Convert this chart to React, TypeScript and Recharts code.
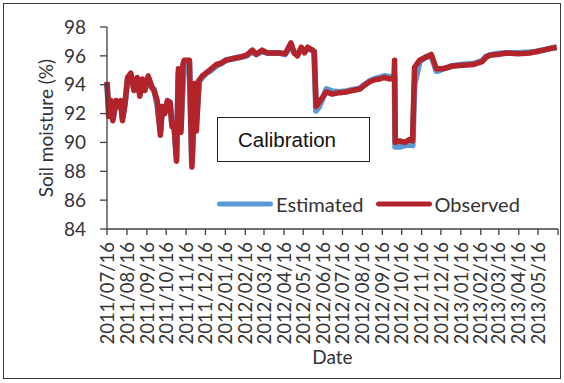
import React from 'react';
import { LineChart, Line, XAxis, YAxis, Legend } from 'recharts';

// Day offsets from 2011/07/16
const days = [
  0, 3, 6, 9, 14, 17, 21, 24, 28, 32, 37, 42, 47, 51, 55, 59, 64, 70, 73, 78,
  83, 86, 90, 94, 98, 101, 104, 108, 111, 115, 118, 120, 128, 132, 137, 139, 143, 148, 154, 162,
  170, 178, 185, 195, 206, 217, 226, 232, 241, 249, 257, 268, 277, 286, 291, 296, 302, 307, 312, 319,
  322, 325, 330, 341, 350, 361, 372, 382, 393, 400, 408, 416, 424, 431, 439, 446, 447, 448, 455, 463,
  470, 475, 478, 486, 495, 504, 512, 517, 522, 530, 537, 553, 569, 576, 583, 589, 595, 606, 621, 639,
  657, 668, 678, 688, 699,
];

const observed = [
  94.2, 91.8, 92.9, 91.5, 92.9, 92.5, 92.9, 91.5, 92.7, 94.5, 94.8, 93.6, 94.5, 93.2, 94.4, 93.6, 94.6, 93.8, 93.6, 92.9,
  90.5, 92.5, 92.0, 92.9, 92.8, 91.1, 91.3, 88.7, 95.1, 90.7, 95.4, 95.7, 95.7, 88.3, 94.1, 90.8, 94.3, 94.6, 94.8, 95.1,
  95.4, 95.5, 95.7, 95.8, 95.9, 96.05, 96.4, 96.1, 96.4, 96.2, 96.2, 96.2, 96.15, 96.9, 96.2, 96.0, 96.6, 96.2, 96.6, 96.4,
  96.3, 92.5, 92.8, 93.5, 93.35, 93.45, 93.5, 93.6, 93.7, 93.95, 94.2, 94.35, 94.4, 94.5, 94.4, 94.45, 95.7, 90.0, 90.1, 90.0,
  90.2, 90.1, 95.2, 95.7, 95.9, 96.1, 95.1, 95.1, 95.1, 95.2, 95.3, 95.35, 95.4, 95.5, 95.6, 95.9, 96.05, 96.1, 96.2, 96.15,
  96.2, 96.3, 96.4, 96.5, 96.6,
];

const estimated = [
  94.1, 91.9, 92.8, 91.6, 92.8, 92.5, 92.8, 91.7, 92.7, 94.3, 94.7, 93.7, 94.4, 93.4, 94.3, 93.7, 94.5, 93.8, 93.7, 92.6,
  90.8, 92.4, 92.1, 92.8, 92.7, 91.3, 91.4, 89.0, 94.8, 91.0, 94.0, 95.4, 95.6, 88.6, 93.8, 91.5, 94.2, 94.5, 94.8, 95.0,
  95.3, 95.5, 95.7, 95.8, 95.9, 96.0, 96.3, 96.1, 96.3, 96.2, 96.2, 96.2, 96.1, 96.7, 96.2, 96.1, 96.5, 96.3, 96.5, 96.4,
  96.3, 92.2, 92.5, 93.7, 93.55, 93.5, 93.55, 93.65, 93.75, 94.0, 94.25, 94.4, 94.5, 94.6, 94.55, 94.5, 94.6, 89.7, 89.7, 89.8,
  89.9, 89.8, 94.0, 95.6, 95.9, 96.0, 94.95, 95.0, 95.1, 95.2, 95.3, 95.4, 95.45, 95.55, 95.65, 95.95, 96.05, 96.15, 96.2, 96.2,
  96.25, 96.3, 96.4, 96.5, 96.6,
];

const tickLabels = [
  '2011/07/16', '2011/08/16', '2011/09/16', '2011/10/16', '2011/11/16', '2011/12/16',
  '2012/01/16', '2012/02/16', '2012/03/16', '2012/04/16', '2012/05/16', '2012/06/16',
  '2012/07/16', '2012/08/16', '2012/09/16', '2012/10/16', '2012/11/16', '2012/12/16',
  '2013/01/16', '2013/02/16', '2013/03/16', '2013/04/16', '2013/05/16',
];
const axisEndDate = '2013/06/16';
const yTicks = [84, 86, 88, 90, 92, 94, 96, 98];

const toDay = (s: string) => {
  const [y, m, d] = s.split('/').map(Number);
  return Math.round((Date.UTC(y, m - 1, d) - Date.UTC(2011, 6, 16)) / 86400000);
};

const labelByDay = new Map<number, string>(tickLabels.map((t) => [toDay(t), t]));
const xTicks = [...tickLabels.map(toDay), toDay(axisEndDate)];

const data = days.map((d, i) => ({ day: d, estimated: estimated[i], observed: observed[i] }));

const BLUE = '#5B9BD5';
const RED = '#B3232A';
const AXIS = '#404040';
const TEXT = '#333333';
const FONT = 'Lato';

const DateTick = (props: any) => {
  const { x, y, payload } = props;
  const label = labelByDay.get(payload.value) ?? '';
  if (!label) return null;
  return (
    <text
      x={x}
      y={y}
      transform={`rotate(-90, ${x}, ${y})`}
      textAnchor="end"
      dy="0.36em"
      fontFamily={FONT}
      fontSize={18.5}
      fill={TEXT}
    >
      {label}
    </text>
  );
};

const LegendContent = () => {
  const items = [
    { name: 'Estimated', color: BLUE, gap: 12 },
    { name: 'Observed', color: RED, gap: 0 },
  ];
  return (
    <div style={{ display: 'flex', alignItems: 'center', fontFamily: FONT, fontSize: 20, color: TEXT, whiteSpace: 'nowrap' }}>
      {items.map((it) => (
        <div key={it.name} style={{ display: 'flex', alignItems: 'center', marginRight: it.gap }}>
          <svg width={56} height={8} style={{ display: 'block' }}>
            <line x1={2.5} y1={4} x2={53.5} y2={4} stroke={it.color} strokeWidth={5} strokeLinecap="round" />
          </svg>
          <span style={{ marginLeft: 3 }}>{it.name}</span>
        </div>
      ))}
    </div>
  );
};

export default function App() {
  return (
    <div style={{ position: 'absolute', left: 0, top: 0, width: 564, height: 383, background: '#fff' }}>
      <div
        style={{
          position: 'absolute',
          left: 3,
          top: 3,
          width: 558,
          height: 376,
          boxSizing: 'border-box',
          border: '1.5px solid #3a3a3a',
        }}
      />
      <div style={{ position: 'absolute', left: 0, top: 0 }}>
        <LineChart width={564} height={383} data={data} margin={{ top: 27, right: 6, bottom: 0, left: 0 }}>
          <XAxis
            dataKey="day"
            type="number"
            domain={[0, toDay(axisEndDate)]}
            ticks={xTicks}
            interval={0}
            height={154}
            tickSize={6}
            tickMargin={7}
            tick={<DateTick />}
            axisLine={{ stroke: AXIS, strokeWidth: 1.3 }}
            tickLine={{ stroke: AXIS, strokeWidth: 1.3 }}
            label={{ value: 'Date', position: 'insideBottom', offset: 19, style: { fontFamily: FONT, fontSize: 19, fill: TEXT } }}
          />
          <YAxis
            type="number"
            domain={[84, 98]}
            ticks={yTicks}
            interval={0}
            width={107}
            tickSize={7}
            tickMargin={14}
            tick={{ fontFamily: FONT, fontSize: 19, fill: TEXT }}
            axisLine={{ stroke: AXIS, strokeWidth: 1.3 }}
            tickLine={{ stroke: AXIS, strokeWidth: 1.3 }}
            label={{ value: 'Soil moisture (%)', angle: -90, position: 'center', dx: -7, style: { fontFamily: FONT, fontSize: 19, fill: TEXT } }}
          />
          <Legend
            verticalAlign="middle"
            align="center"
            layout="horizontal"
            content={<LegendContent />}
            wrapperStyle={{ position: 'absolute', left: 217, top: 192, width: 330, height: 26 }}
          />
          <Line type="linear" dataKey="estimated" name="Estimated" stroke={BLUE} strokeWidth={6} dot={false} isAnimationActive={false} strokeLinejoin="round" />
          <Line type="linear" dataKey="observed" name="Observed" stroke={RED} strokeWidth={5.5} dot={false} isAnimationActive={false} strokeLinejoin="round" />
        </LineChart>
      </div>
      <div
        style={{
          position: 'absolute',
          left: 217,
          top: 117,
          width: 153,
          height: 45,
          boxSizing: 'border-box',
          border: '1.5px solid #222',
          background: '#fff',
          fontFamily: '"Liberation Sans", Arial, sans-serif',
          fontSize: 20.5,
          color: '#111',
          display: 'flex',
          alignItems: 'center',
          paddingLeft: 20,
        }}
      >
        Calibration
      </div>
    </div>
  );
}
